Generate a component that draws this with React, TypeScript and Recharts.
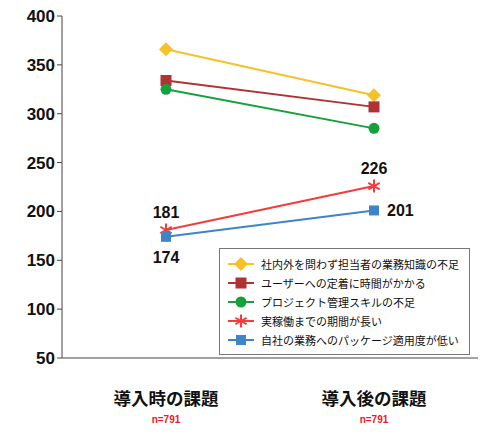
import { LineChart, Line, XAxis, YAxis, LabelList } from "recharts";

const categories = ["導入時の課題", "導入後の課題"];
const sampleSizes = ["n=791", "n=791"];
const yTicks = [50, 100, 150, 200, 250, 300, 350, 400];

const knowledge = [366, 319];
const adoption = [334, 307];
const projectSkill = [325, 285];
const leadTime = [181, 226];
const packageFit = [174, 201];

const seriesDefs = [
  { key: "knowledge", name: "社内外を問わず担当者の業務知識の不足", color: "#f5c22a", shape: "diamond" },
  { key: "adoption", name: "ユーザーへの定着に時間がかかる", color: "#b03234", shape: "square" },
  { key: "projectSkill", name: "プロジェクト管理スキルの不足", color: "#14a03c", shape: "circle" },
  { key: "leadTime", name: "実稼働までの期間が長い", color: "#f53b3b", shape: "star" },
  { key: "packageFit", name: "自社の業務へのパッケージ適用度が低い", color: "#3d85c8", shape: "smallSquare" },
];

const data = categories.map((label, i) => ({
  label,
  knowledge: knowledge[i],
  adoption: adoption[i],
  projectSkill: projectSkill[i],
  leadTime: leadTime[i],
  packageFit: packageFit[i],
}));

const NUM_FONT = "'Liberation Sans', Arial, sans-serif";
const JP_FONT = "'Noto Sans CJK JP', sans-serif";

function Marker({ cx, cy, shape, color }: { cx: number; cy: number; shape: string; color: string }) {
  if (cx == null || cy == null) return null;
  if (shape === "diamond") {
    const r = 7;
    return <polygon points={`${cx},${cy - r} ${cx + r},${cy} ${cx},${cy + r} ${cx - r},${cy}`} fill={color} />;
  }
  if (shape === "square") return <rect x={cx - 5.5} y={cy - 5.5} width={11} height={11} fill={color} />;
  if (shape === "smallSquare") return <rect x={cx - 5} y={cy - 5} width={10} height={10} fill={color} />;
  if (shape === "circle") return <circle cx={cx} cy={cy} r={5.5} fill={color} />;
  const r = 6.5;
  return (
    <g stroke={color} strokeWidth={2}>
      <line x1={cx} y1={cy - r} x2={cx} y2={cy + r} />
      <line x1={cx - r * 0.87} y1={cy - r / 2} x2={cx + r * 0.87} y2={cy + r / 2} />
      <line x1={cx - r * 0.87} y1={cy + r / 2} x2={cx + r * 0.87} y2={cy - r / 2} />
    </g>
  );
}

function CategoryTick({ x, y, payload, index }: any) {
  return (
    <g>
      <text x={x} y={y + 39} textAnchor="middle" fontFamily={JP_FONT} fontWeight="bold" fontSize={17.5} fill="#111">
        {payload.value}
      </text>
      <text x={x} y={y + 57} textAnchor="middle" fontFamily={NUM_FONT} fontWeight="bold" fontSize={10} fill="#e8201f">
        {sampleSizes[index]}
      </text>
    </g>
  );
}

function ValueLabel(placement: (i: number) => "top" | "bottom" | "right") {
  return (props: any) => {
    const { x, y, value, index } = props;
    const where = placement(index);
    let tx = x;
    let ty = y;
    let anchor: "middle" | "start" = "middle";
    if (where === "top") ty = y - 12;
    if (where === "bottom") ty = y + 26;
    if (where === "right") {
      tx = x + 13;
      ty = y + 6;
      anchor = "start";
    }
    return (
      <text x={tx} y={ty} textAnchor={anchor} fontFamily={NUM_FONT} fontWeight="bold" fontSize={16} fill="#111">
        {value}
      </text>
    );
  };
}

function LegendBox() {
  return (
    <div
      style={{
        position: "absolute",
        left: 219,
        top: 248,
        width: 251,
        border: "1px solid #777",
        background: "#fff",
        padding: "5px 0 5px 8px",
        fontFamily: JP_FONT,
        fontSize: 11,
        color: "#111",
        boxSizing: "border-box",
      }}
    >
      {seriesDefs.map((s) => (
        <div key={s.key} style={{ display: "flex", alignItems: "center", height: 19 }}>
          <svg width={26} height={14} style={{ marginRight: 7 }}>
            <line x1={0} y1={7} x2={26} y2={7} stroke={s.color} strokeWidth={2} />
            <Marker cx={13} cy={7} shape={s.shape} color={s.color} />
          </svg>
          <span>{s.name}</span>
        </div>
      ))}
    </div>
  );
}

export default function App() {
  return (
    <div style={{ position: "fixed", left: 0, top: 0, width: 490, height: 440, background: "#fff" }}>
      <LineChart width={490} height={440} data={data} margin={{ top: 16, right: 12, bottom: 12, left: 0 }}>
        <XAxis
          dataKey="label"
          padding={{ left: 104, right: 104 }}
          axisLine={{ stroke: "#444" }}
          tickLine={false}
          tick={<CategoryTick />}
          height={70}
          interval={0}
        />
        <XAxis
          xAxisId="top"
          orientation="top"
          dataKey="label"
          padding={{ left: 104, right: 104 }}
          axisLine={{ stroke: "#444" }}
          tickLine={false}
          tick={false}
          height={0}
        />
        <YAxis
          domain={[50, 400]}
          ticks={yTicks}
          width={62}
          axisLine={{ stroke: "#444" }}
          tickLine={{ stroke: "#444" }}
          tickSize={5}
          tick={{ fontFamily: NUM_FONT, fontWeight: "bold", fontSize: 17, fill: "#111" }}
        />
        <YAxis
          yAxisId="right"
          orientation="right"
          domain={[50, 400]}
          axisLine={{ stroke: "#444" }}
          tickLine={false}
          tick={false}
          width={0}
        />
        {seriesDefs.map((s) => (
          <Line
            key={s.key}
            dataKey={s.key}
            name={s.name}
            stroke={s.color}
            strokeWidth={2}
            isAnimationActive={false}
            dot={(p: any) => <Marker key={`${s.key}-${p.index}`} cx={p.cx} cy={p.cy} shape={s.shape} color={s.color} />}
            activeDot={false}
          >
            {s.key === "leadTime" && <LabelList dataKey={s.key} content={ValueLabel(() => "top")} />}
            {s.key === "packageFit" && (
              <LabelList dataKey={s.key} content={ValueLabel((i) => (i === 0 ? "bottom" : "right"))} />
            )}
          </Line>
        ))}
      </LineChart>
      <LegendBox />
    </div>
  );
}
